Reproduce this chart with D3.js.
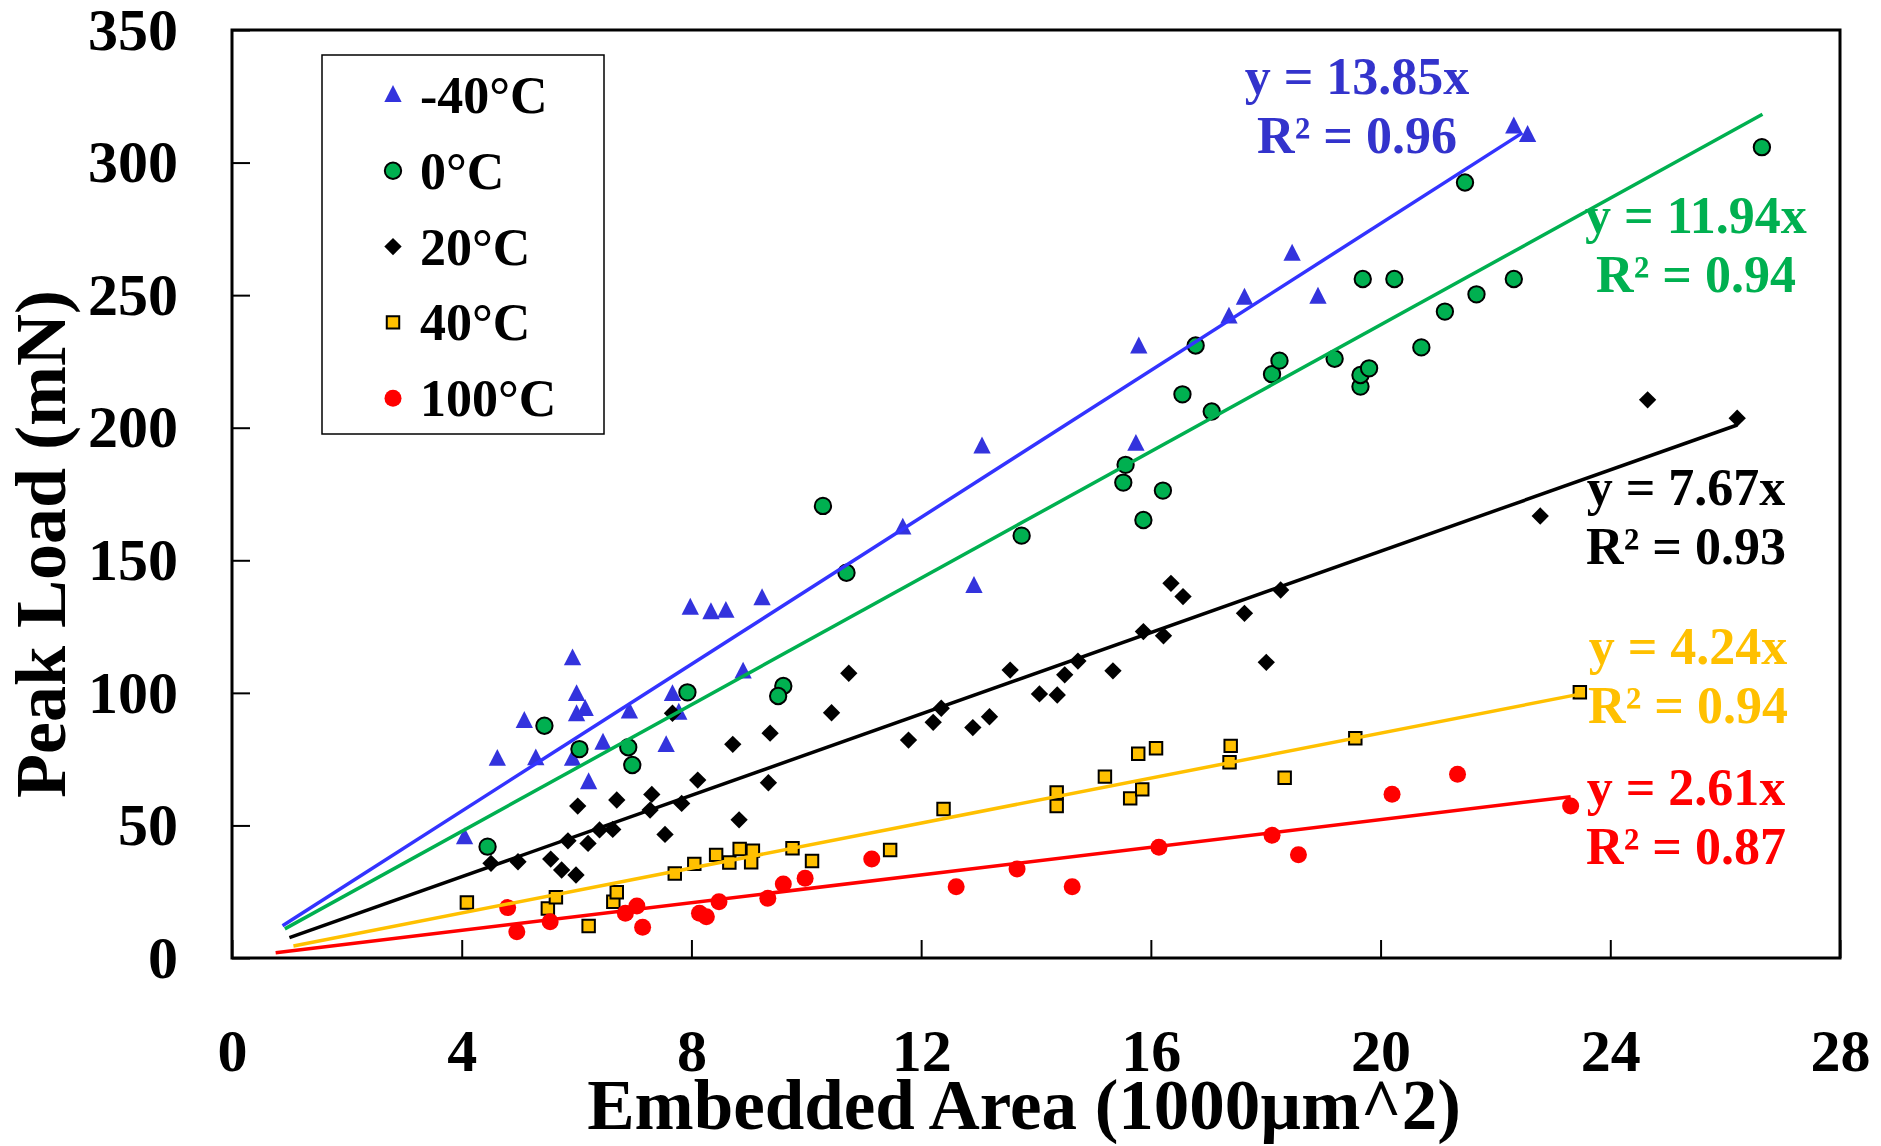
<!DOCTYPE html>
<html>
<head>
<meta charset="utf-8">
<script src="https://cdn.jsdelivr.net/npm/d3@7"></script>
<style>
  body { margin: 0; background: #fff; }
  text { font-family: "Liberation Serif", "Times New Roman", serif; font-weight: bold; }
</style>
</head>
<body>
<div id="chart"></div>
<script>
// data: [embedded area (1000 µm^2), peak load (mN)]
const seriesNames = ['-40°C', '0°C', '20°C', '40°C', '100°C'];

const ptsMinus40 = [
  [4.05, 45.5], [4.62, 75.1], [5.09, 89.4], [5.29, 75.3], [5.93, 113], [6.0, 99.5],
  [6.0, 91.9], [6.15, 93.9], [5.93, 75.1], [6.21, 66.3], [6.46, 81.2], [6.92, 92.9],
  [7.67, 99.5], [7.78, 92.5], [7.56, 80.3], [7.98, 132.1], [8.34, 130.4], [8.6, 130.9],
  [9.23, 135.7], [8.9, 108], [11.68, 162.3], [12.92, 140.3], [13.06, 192.9], [15.79, 230.6],
  [15.74, 193.9], [17.36, 241.9], [17.63, 249], [18.46, 265.6], [18.91, 249.4], [22.32, 313.6],
  [22.56, 310.4]
];
const pts0 = [
  [4.45, 42], [5.44, 87.6], [6.05, 78.8], [6.9, 79.5], [6.97, 72.8], [7.93, 100.2],
  [9.6, 102.6], [9.51, 98.8], [10.29, 170.5], [10.7, 145.3], [13.75, 159.3], [15.56, 186],
  [15.52, 179.3], [15.87, 165.2], [16.21, 176.3], [16.55, 212.6], [16.78, 231], [17.06, 206.1],
  [18.11, 220.2], [18.24, 225.3], [19.2, 226], [19.65, 215.5], [19.65, 219.9], [19.8, 222.4],
  [19.69, 256.1], [20.24, 256.1], [20.71, 230.3], [21.12, 243.8], [21.67, 250.3], [21.47, 292.5],
  [22.32, 256.1], [26.64, 305.8]
];
const pts20 = [
  [4.51, 35.7], [4.98, 36.3], [5.55, 37.3], [5.74, 33.2], [5.99, 31.3], [5.85, 44.2],
  [6.2, 43.2], [6.02, 57.3], [6.4, 48.3], [6.63, 48.5], [6.7, 59.6], [7.28, 55.8],
  [7.31, 61.7], [7.54, 46.6], [7.83, 58.3], [7.67, 92.3], [8.11, 67.1], [8.72, 80.6],
  [8.83, 52.1], [9.37, 84.8], [9.34, 66.1], [10.44, 92.5], [10.74, 107.4], [11.78, 82.2],
  [12.21, 88.9], [12.35, 94.2], [12.9, 86.9], [13.19, 91], [13.55, 108.6], [14.06, 99.6],
  [14.37, 99.2], [14.5, 106.8], [14.73, 112], [15.34, 108.3], [15.87, 123.1], [16.22, 121.5],
  [16.35, 141.3], [16.56, 136.3], [17.63, 130], [18.01, 111.5], [18.26, 138.8], [22.78, 166.7],
  [24.65, 210.5], [26.21, 203.6]
];
const pts40 = [
  [4.09, 20.9], [5.5, 18.7], [5.64, 22.9], [6.21, 12.1], [6.64, 21.2], [6.7, 24.8],
  [7.71, 31.9], [8.05, 35.5], [8.43, 38.9], [8.66, 36], [8.84, 41.1], [9.07, 40.5],
  [9.04, 36.1], [9.76, 41.4], [10.1, 36.6], [11.46, 40.7], [12.39, 56.2], [14.36, 62.4],
  [14.36, 57.3], [15.2, 68.4], [15.64, 60.2], [15.85, 63.6], [15.78, 77], [16.09, 79.1],
  [17.39, 80], [17.37, 73.8], [18.33, 68], [19.56, 82.9], [23.47, 100.2]
];
const pts100 = [
  [4.8, 19], [4.96, 9.9], [5.54, 13.7], [6.85, 16.9], [7.05, 19.6], [7.15, 11.6],
  [8.14, 16.9], [8.26, 15.6], [8.48, 21.2], [9.33, 22.5], [9.6, 27.9], [9.98, 30.1],
  [11.14, 37.3], [12.61, 26.9], [13.67, 33.6], [14.63, 26.9], [16.14, 41.8], [18.11, 46.3],
  [18.57, 38.9], [20.2, 61.8], [21.34, 69.3], [23.31, 57.3]
];

const slopes = [13.85, 11.94, 7.67, 4.24, 2.61];
const rSquared = ['0.96', '0.94', '0.93', '0.94', '0.87'];
const fitStart = [0.88, 0.92, 1.0, 1.07, 0.76];
const fitEnd = [22.47, 26.65, 26.21, 23.47, 23.31];

const xTicks = [0, 4, 8, 12, 16, 20, 24, 28];
const yTicks = [0, 50, 100, 150, 200, 250, 300, 350];

const allPts = [ptsMinus40, pts0, pts20, pts40, pts100];

// styling
const lineColors = ['#3333ff', '#00b050', '#000000', '#ffc000', '#ff0000'];
const fillColors = ['#3333dd', '#00b050', '#000000', '#ffc000', '#ff0000'];
const textColors = ['#3333cc', '#00b050', '#000000', '#ffc000', '#ff0000'];
const strokeColors = ['none', '#000', 'none', '#000', 'none'];

// triangle a bit taller than equilateral, like the original markers
const tallTriangle = {
  draw(ctx, size) {
    const w = Math.sqrt(size * 2) / 2;
    ctx.moveTo(0, -w * 1.15);
    ctx.lineTo(w, w * 0.8);
    ctx.lineTo(-w, w * 0.8);
    ctx.closePath();
  }
};
const symbols = [tallTriangle, d3.symbolCircle, d3.symbolSquare, d3.symbolSquare, d3.symbolCircle];
const symSizes = [150, 210, 150, 155, 227];
const symRotate = [0, 0, 45, 0, 0];
// equation labels: [centre x, first baseline]
const labelPos = [[1357, 94], [1696, 233], [1686, 505], [1688, 664], [1686, 805]];

const W = 1881, H = 1146;
const m = { left: 232, right: 1840, top: 30, bottom: 958 };

const svg = d3.select('#chart').append('svg')
  .attr('width', W)
  .attr('height', H);

svg.append('rect').attr('width', W).attr('height', H).attr('fill', '#fff');

const x = d3.scaleLinear().domain([0, 28]).range([m.left, m.right]);
const y = d3.scaleLinear().domain([0, 350]).range([m.bottom, m.top]);

// axes (ticks point inward)
const yAxis = svg.append('g')
  .attr('transform', `translate(${m.left},0)`)
  .call(d3.axisLeft(y).tickValues(yTicks).tickSize(-18).tickSizeOuter(0).tickPadding(54));
const xAxis = svg.append('g')
  .attr('transform', `translate(0,${m.bottom})`)
  .call(d3.axisBottom(x).tickValues(xTicks).tickSize(-18).tickSizeOuter(0).tickPadding(70));

[xAxis, yAxis].forEach(g => {
  g.select('.domain').remove();
  g.selectAll('line').attr('stroke', '#000').attr('stroke-width', 2);
  g.selectAll('text')
    .attr('fill', '#000')
    .attr('font-size', 60)
    .attr('font-family', '"Liberation Serif", "Times New Roman", serif')
    .attr('font-weight', 'bold');
});

// plot frame
svg.append('rect')
  .attr('x', m.left)
  .attr('y', m.top)
  .attr('width', m.right - m.left)
  .attr('height', m.bottom - m.top)
  .attr('fill', 'none')
  .attr('stroke', '#000')
  .attr('stroke-width', 3);

// markers
allPts.forEach((pts, i) => {
  const sym = d3.symbol().type(symbols[i]).size(symSizes[i]);
  svg.append('g').selectAll('path')
    .data(pts)
    .join('path')
    .attr('d', sym)
    .attr('transform', d => `translate(${x(d[0])},${y(d[1])}) rotate(${symRotate[i]})`)
    .attr('fill', fillColors[i])
    .attr('stroke', strokeColors[i])
    .attr('stroke-width', 2);
});

// trend lines y = a x
const line = d3.line().x(d => x(d[0])).y(d => y(d[1]));
slopes.forEach((s, i) => {
  const seg = [[fitStart[i], s * fitStart[i]], [fitEnd[i], s * fitEnd[i]]];
  svg.append('path')
    .datum(seg)
    .attr('fill', 'none')
    .attr('stroke', lineColors[i])
    .attr('stroke-width', 3.5)
    .attr('d', line);
});

// equations
slopes.forEach((s, i) => {
  const t = svg.append('text')
    .attr('x', labelPos[i][0])
    .attr('y', labelPos[i][1])
    .attr('text-anchor', 'middle')
    .attr('font-size', 52)
    .attr('fill', textColors[i]);
  t.append('tspan').attr('x', labelPos[i][0]).text(`y = ${s.toFixed(2)}x`);
  t.append('tspan').attr('x', labelPos[i][0]).attr('dy', 59).text(`R² = ${rSquared[i]}`);
});

// legend
const lg = svg.append('g');
lg.append('rect')
  .attr('x', 322).attr('y', 55)
  .attr('width', 282).attr('height', 379)
  .attr('fill', '#fff')
  .attr('stroke', '#000')
  .attr('stroke-width', 1.5);
seriesNames.forEach((name, i) => {
  const cy = 95 + i * 75.8;
  lg.append('path')
    .attr('d', d3.symbol().type(symbols[i]).size(symSizes[i])())
    .attr('transform', `translate(393,${cy}) rotate(${symRotate[i]})`)
    .attr('fill', fillColors[i])
    .attr('stroke', strokeColors[i])
    .attr('stroke-width', 2);
  lg.append('text')
    .attr('x', 420)
    .attr('y', cy + 18)
    .attr('font-size', 52)
    .attr('fill', '#000')
    .text(name);
});

// axis titles
svg.append('text')
  .attr('x', 1024)
  .attr('y', 1129)
  .attr('text-anchor', 'middle')
  .attr('font-size', 71)
  .attr('fill', '#000')
  .text('Embedded Area (1000µm^2)');

svg.append('text')
  .attr('transform', 'translate(65,544) rotate(-90)')
  .attr('text-anchor', 'middle')
  .attr('font-size', 72)
  .attr('fill', '#000')
  .text('Peak Load (mN)');
</script>
</body>
</html>
